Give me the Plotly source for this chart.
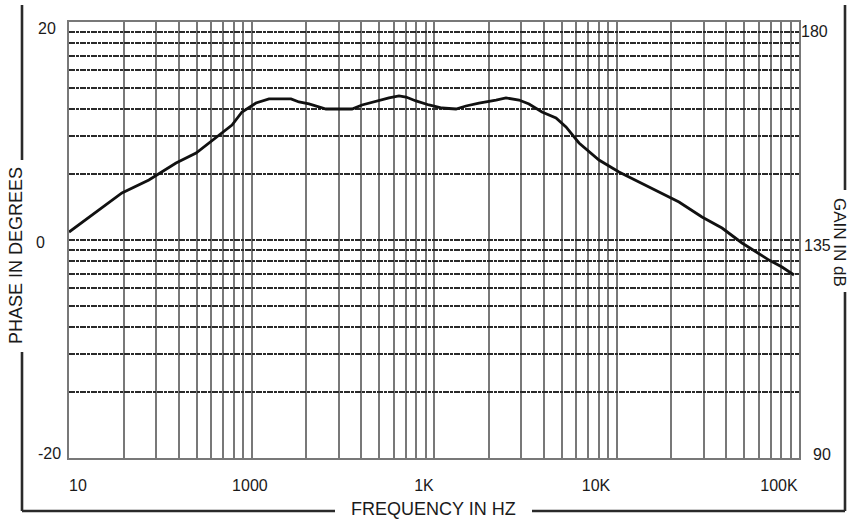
import plotly.graph_objects as go

# ---- data ----
freq_hz = [10, 11.3, 14.6, 19.5, 27.4, 38.6, 49.7, 66.4, 78.2, 88.7, 105.8, 124.7,
           164.6, 182.1, 206.6, 256.0, 355.4, 403.2, 481.1, 566.8, 643.0, 702.5,
           796.9, 938.8, 1106, 1320, 1497, 1765, 2187, 2481, 2923, 3316, 3907,
           4662, 5288, 6232, 8018, 10320, 13280, 17100, 22000, 29410, 37860,
           48730, 58140, 68480, 80690, 93890]
# curve height on the two-decade log grid (1 = -20 deg, 10 = 0 deg, 100 = +20 deg)
curve_grid = [10.88, 11.72, 13.73, 16.43, 18.85, 22.55, 25.07, 30.31, 33.69, 38.65,
              42.50, 44.36, 44.36, 42.96, 42.07, 39.89, 39.89, 41.63, 43.43, 44.82,
              45.78, 45.29, 43.43, 41.63, 40.32, 39.89, 41.19, 42.50, 43.87, 44.82,
              43.87, 42.07, 38.65, 36.28, 32.99, 27.86, 23.28, 20.51, 18.45, 16.60,
              14.94, 12.75, 11.35, 9.69, 8.81, 8.09, 7.52, 6.91]

x_tick_labels = ["10", "1000", "1K", "10K", "100K"]
x_tick_pos = [11.2, 98, 881, 7727, 77625]
phase_labels = ["20", "0", "-20"]
gain_labels = ["180", "135", "90"]

# ---- layout geometry (pixels) ----
W, H = 850, 522
L, R, T, B = 69, 51, 22, 64
PW, PH = W - L - R, H - T - B


def px(x):
    return (x - L) / PW


def py(y):
    return (H - B - y) / PH


x_grid = [m * 10 ** d for d in range(1, 5) for m in range(1, 10)] + [100000]
y_minor = [m * 10 ** d for d in range(0, 2) for m in range(2, 10)]

FONT = "Liberation Sans, Arial, sans-serif"
INK = "#1a1a1a"
HGRID = dict(gridcolor="#2a2a2a", gridwidth=2, griddash="6px,1px,3px,1px")
VGRID = dict(gridcolor="#787878", gridwidth=1.6)

fig = go.Figure()
fig.add_trace(go.Scatter(x=freq_hz, y=curve_grid, mode="lines",
                         line=dict(color="#111111", width=2.8),
                         showlegend=False, hoverinfo="skip"))

fig.update_layout(
    width=W, height=H,
    margin=dict(l=L, r=R, t=T, b=B),
    paper_bgcolor="white", plot_bgcolor="white",
    font=dict(family=FONT, color=INK, size=16),
    xaxis=dict(type="log", range=[1, 5], tickmode="array",
               tickvals=x_tick_pos, ticktext=x_tick_labels,
               showgrid=False, zeroline=False, ticks="", ticklabelstandoff=12,
               tickfont=dict(size=16, color=INK),
               showline=True, linecolor="#787878", linewidth=1.6, mirror=True,
               minor=dict(tickmode="array", tickvals=x_grid, showgrid=True,
                          ticks="", **VGRID)),
    yaxis=dict(type="log", range=[0, 2], tickmode="array", tickvals=[1, 10, 100],
               showticklabels=False, ticks="", zeroline=False,
               showgrid=True, **HGRID,
               showline=True, linecolor="#787878", linewidth=1.6, mirror=True,
               minor=dict(tickmode="array", tickvals=y_minor, showgrid=True,
                          ticks="", **HGRID)),
)

anns = []
for txt, (x, y) in zip(phase_labels, [(47, 28), (40, 242), (49, 453)]):
    anns.append(dict(text=txt, x=px(x), y=py(y), xref="paper", yref="paper",
                     showarrow=False, xanchor="center", yanchor="middle",
                     font=dict(size=16, color=INK)))
for txt, (x, y) in zip(gain_labels, [(814, 31), (817, 245), (822, 454)]):
    anns.append(dict(text=txt, x=px(x), y=py(y), xref="paper", yref="paper",
                     showarrow=False, xanchor="center", yanchor="middle",
                     font=dict(size=16, color=INK)))
anns.append(dict(text="PHASE IN DEGREES", x=px(16), y=py(256), xref="paper", yref="paper",
                 showarrow=False, textangle=-90, xanchor="center", yanchor="middle",
                 font=dict(size=18, color=INK)))
anns.append(dict(text="GAIN IN dB", x=px(840), y=py(242), xref="paper", yref="paper",
                 showarrow=False, textangle=90, xanchor="center", yanchor="middle",
                 font=dict(size=17, color=INK)))
anns.append(dict(text="FREQUENCY IN HZ", x=px(433), y=py(509), xref="paper", yref="paper",
                 showarrow=False, xanchor="center", yanchor="middle",
                 font=dict(size=18, color=INK)))
fig.update_layout(annotations=anns)

frame = [
    (22, 5, 22, 160), (22, 352, 22, 511),
    (22, 511, 335, 511), (532, 511, 845, 511),
    (845, 511, 845, 292), (845, 190, 845, 5),
]
shapes = []
for x0, y0, x1, y1 in frame:
    shapes.append(dict(type="line", xref="paper", yref="paper",
                       x0=px(x0), y0=py(y0), x1=px(x1), y1=py(y1),
                       line=dict(color="#2a2a2a", width=2.6)))
fig.update_layout(shapes=shapes)

fig.write_html("out.html", config={"displayModeBar": False},
               post_script="document.body.style.margin='0';"
                           "document.body.style.overflow='hidden';")
